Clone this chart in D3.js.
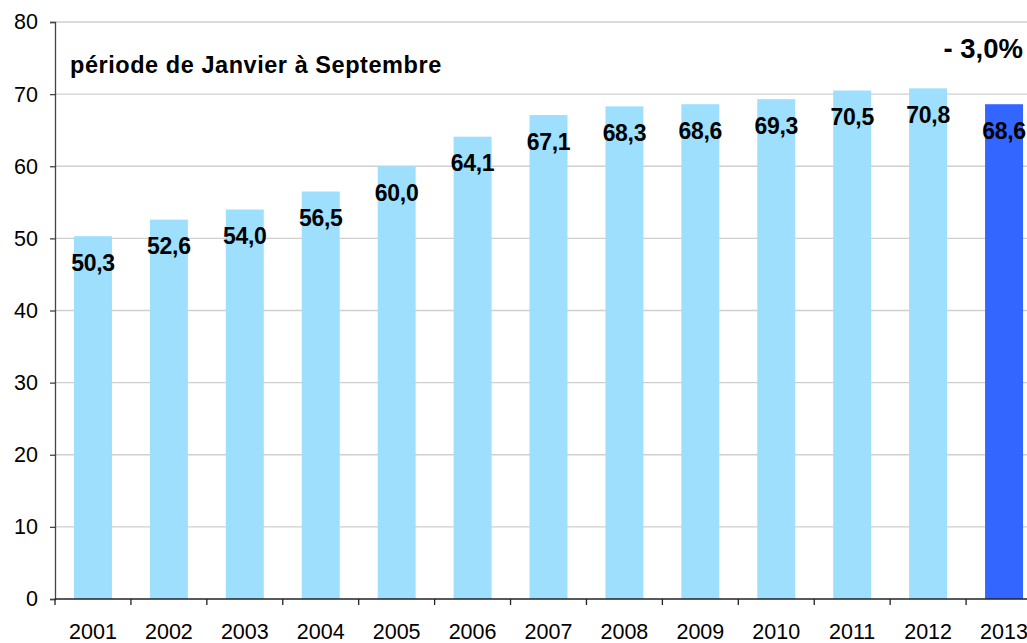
<!DOCTYPE html>
<html>
<head>
<meta charset="utf-8">
<script src="https://cdn.jsdelivr.net/npm/d3@7"></script>
<style>
  body { margin: 0; background: #fff; }
  svg { display: block; font-family: Arial, "Liberation Sans", sans-serif; }
</style>
</head>
<body>
<div class="container"></div>
<script>
let years = ['2001', '2002', '2003', '2004', '2005', '2006', '2007', '2008', '2009', '2010', '2011', '2012', '2013']
let values = [50.3, 52.6, 54.0, 56.5, 60.0, 64.1, 67.1, 68.3, 68.6, 69.3, 70.5, 70.8, 68.6]
let yTicks = [0, 10, 20, 30, 40, 50, 60, 70, 80]
let title = 'période de Janvier à Septembre'
let change = '- 3,0%'

let width = 1027
let height = 643

let svg = d3.select('.container')
    .append('svg')
    .attr('width', width)
    .attr('height', height)

let xScale = d3.scaleBand()
    .domain(years)
    .range([55, 1042])
    .paddingInner(0.5)
    .paddingOuter(0.25)

let yScale = d3.scaleLinear()
    .domain([0, 80])
    .range([599, 22])

// gridlines
svg.append('g')
    .selectAll('line')
    .data(yTicks.filter(d => d > 0))
    .enter()
    .append('line')
    .attr('x1', 55)
    .attr('x2', width)
    .attr('y1', d => yScale(d))
    .attr('y2', d => yScale(d))
    .attr('stroke', '#cfcfcf')
    .attr('stroke-width', 1.3)

svg.selectAll('rect.bar')
    .data(values)
    .enter()
    .append('rect')
    .attr('class', 'bar')
    .attr('x', (d, i) => xScale(years[i]))
    .attr('width', xScale.bandwidth())
    .attr('y', d => yScale(d))
    .attr('height', d => yScale(0) - yScale(d))
    .attr('fill', (d, i) => i === years.length - 1 ? '#3366ff' : '#9edffe')

svg.selectAll('text.val')
    .data(values)
    .enter()
    .append('text')
    .attr('class', 'val')
    .attr('x', (d, i) => xScale(years[i]) + xScale.bandwidth() / 2)
    .attr('y', d => yScale(d) + 34.5)
    .attr('text-anchor', 'middle')
    .style('font-size', '23px')
    .style('font-weight', 'bold')
    .style('letter-spacing', '-0.3px')
    .text(d => d.toFixed(1).replace('.', ','))

// y axis
let yAxis = d3.axisLeft(yScale)
    .tickValues(yTicks)
    .tickSize(5)
    .tickPadding(12)

let gy = svg.append('g')
    .attr('transform', 'translate(55,0)')
    .call(yAxis)
gy.select('.domain').attr('stroke', '#444').attr('stroke-width', 1.3)
gy.selectAll('.tick line').attr('stroke', '#444').attr('stroke-width', 1.3)
gy.selectAll('.tick text')
    .style('font-size', '21.5px')
    .style('font-family', 'Arial, "Liberation Sans", sans-serif')
    .attr('fill', '#000')

// x axis, ticks on band edges
let xAxis = d3.axisBottom(xScale)
    .tickSize(0)
    .tickPadding(25)
let gx = svg.append('g')
    .attr('transform', `translate(0,${yScale(0)})`)
    .call(xAxis)
gx.select('.domain').remove()
gx.selectAll('.tick text')
    .style('font-size', '21.5px')
    .style('font-family', 'Arial, "Liberation Sans", sans-serif')
    .attr('fill', '#000')

gx.append('line')
    .attr('x1', 55)
    .attr('x2', width)
    .attr('stroke', '#222')
    .attr('stroke-width', 1.3)

gx.selectAll('line.edge')
    .data(years)
    .enter()
    .append('line')
    .attr('class', 'edge')
    .attr('x1', d => xScale(d) - xScale.step() * 0.25)
    .attr('x2', d => xScale(d) - xScale.step() * 0.25)
    .attr('y1', 0)
    .attr('y2', 6)
    .attr('stroke', '#222')
    .attr('stroke-width', 1.3)

svg.append('text')
    .attr('x', 70)
    .attr('y', 73)
    .style('font-size', '23.5px')
    .style('font-weight', 'bold')
    .style('letter-spacing', '0.55px')
    .text(title)

svg.append('text')
    .attr('x', 1023)
    .attr('y', 58)
    .attr('text-anchor', 'end')
    .style('font-size', '27.5px')
    .style('font-weight', 'bold')
    .text(change)
</script>
</body>
</html>
